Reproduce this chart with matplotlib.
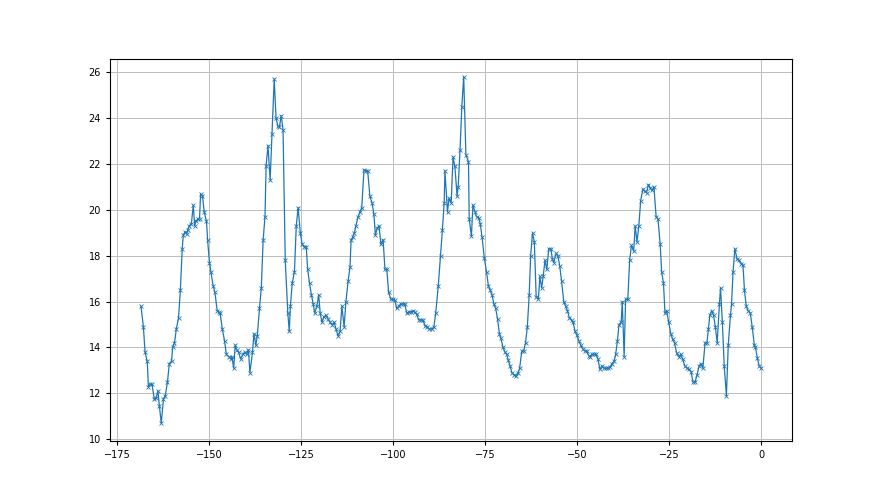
import matplotlib
matplotlib.use('Agg')
import matplotlib.pyplot as plt

x_values = [
    -168.5, -167.85, -167.4, -166.8, -166.5, -166.0, -165.5, -164.9, -164.4, -163.9,
    -163.5, -163.0, -162.4, -161.9, -161.3, -160.8, -160.2, -159.9, -159.4, -158.9,
    -158.3, -157.8, -157.3, -157.0, -156.5, -156.1, -155.8, -155.4, -154.8, -154.3,
    -153.9, -153.6, -153.1, -152.6, -152.3, -151.8, -151.3, -150.7, -150.4, -149.9,
    -149.5, -148.9, -148.4, -147.8, -147.4, -147.0, -146.4, -145.8, -145.3, -144.6,
    -144.1, -143.8, -143.3, -142.9, -142.5, -142.0, -141.4, -140.8, -140.3, -139.8,
    -139.3, -138.9, -138.2, -137.8, -137.3, -136.9, -136.3, -135.8, -135.3, -134.8,
    -134.5, -134.0, -133.4, -132.9, -132.3, -131.8, -131.3, -130.9, -130.4, -129.9,
    -129.3, -128.6, -128.2, -127.9, -127.4, -126.8, -126.3, -125.8, -125.2, -124.7,
    -124.2, -123.6, -123.2, -122.7, -122.2, -121.7, -121.3, -120.7, -120.2, -119.8,
    -119.3, -118.8, -118.2, -117.7, -117.1, -116.6, -116.0, -115.5, -114.9, -114.4,
    -113.9, -113.3, -112.8, -112.2, -111.7, -111.4, -111.0, -110.5, -110.1, -109.5,
    -109.0, -108.5, -107.9, -107.4, -106.9, -106.3, -105.7, -105.2, -104.8, -104.3,
    -103.8, -103.3, -102.7, -102.2, -101.7, -101.2, -100.6, -100.1, -99.5, -99.0,
    -98.5, -97.9, -97.4, -96.8, -96.3, -95.7, -95.2, -94.6, -94.1, -93.6,
    -93.0, -92.5, -91.9, -91.3, -90.7, -90.1, -89.5, -88.9, -88.4, -87.7,
    -87.1, -86.6, -86.1, -85.9, -85.2, -84.8, -84.2, -83.7, -83.2, -82.6,
    -82.3, -81.8, -81.3, -80.8, -80.2, -79.5, -79.3, -78.7, -78.3, -77.7,
    -77.3, -76.7, -76.3, -75.8, -75.2, -74.6, -74.1, -73.6, -73.1, -72.6,
    -72.1, -71.6, -71.1, -70.7, -70.1, -69.6, -69.1, -68.7, -68.2, -67.7,
    -67.1, -66.6, -66.0, -65.6, -65.0, -64.5, -64.0, -63.5, -63.0, -62.6,
    -62.1, -61.6, -61.1, -60.5, -60.1, -59.6, -59.2, -58.7, -58.2, -57.7,
    -57.1, -56.7, -56.3, -55.7, -55.2, -54.7, -54.2, -53.6, -53.1, -52.6,
    -52.1, -51.5, -51.1, -50.5, -50.1, -49.5, -49.0, -48.5, -47.9, -47.4,
    -46.8, -46.5, -45.9, -45.4, -44.8, -44.3, -43.8, -43.2, -42.7, -42.1,
    -41.6, -41.0, -40.5, -39.9, -39.5, -39.0, -38.6, -38.0, -37.7, -37.2,
    -36.8, -36.2, -35.7, -35.2, -34.6, -34.2, -33.7, -33.2, -32.7, -32.1,
    -31.6, -31.1, -30.6, -30.1, -29.6, -29.1, -28.5, -28.0, -27.4, -27.0,
    -26.5, -26.1, -25.6, -25.1, -24.5, -24.0, -23.5, -22.9, -22.4, -21.8,
    -21.3, -20.7, -20.1, -19.6, -19.0, -18.5, -17.9, -17.4, -16.8, -16.3,
    -15.8, -15.2, -14.7, -14.3, -13.9, -13.4, -12.9, -12.4, -11.9, -11.3,
    -11.0, -10.5, -10.0, -9.4, -8.9, -8.3, -8.0, -7.6, -7.1, -6.5,
    -6.0, -5.4, -4.9, -4.5, -4.0, -3.5, -2.9, -2.4, -1.8, -1.5,
    -1.0, -0.5, 0.0,
]

y_values = [
    15.8, 14.9, 13.8, 13.4, 12.3, 12.4, 12.4, 11.75, 11.8, 12.1,
    11.45, 10.7, 11.75, 11.9, 12.5, 13.3, 13.4, 14.0, 14.2, 14.8,
    15.3, 16.5, 18.3, 18.9, 19.05, 18.95, 19.1, 19.3, 19.4, 20.2,
    19.3, 19.5, 19.6, 19.6, 20.7, 20.6, 19.9, 19.5, 18.7, 17.7,
    17.3, 16.7, 16.4, 15.6, 15.55, 15.5, 14.8, 14.3, 13.7, 13.6,
    13.5, 13.6, 13.1, 14.1, 13.9, 13.8, 13.5, 13.7, 13.8, 13.7,
    13.9, 12.9, 13.8, 14.6, 14.1, 14.5, 15.7, 16.6, 18.7, 19.7,
    21.9, 22.8, 21.3, 23.3, 25.7, 24.0, 23.65, 23.6, 24.1, 23.5,
    17.8, 15.5, 14.7, 15.8, 16.8, 17.3, 19.3, 20.1, 19.0, 18.5,
    18.4, 18.4, 17.4, 16.8, 16.3, 15.9, 15.5, 15.8, 16.3, 15.5,
    15.1, 15.35, 15.4, 15.25, 15.1, 15.0, 15.1, 14.8, 14.5, 14.7,
    15.8, 14.9, 16.0, 16.9, 17.5, 18.7, 18.8, 19.0, 19.3, 19.7,
    19.9, 20.1, 21.75, 21.7, 21.7, 20.6, 20.3, 19.8, 18.9, 19.2,
    19.3, 18.5, 18.7, 17.4, 17.4, 16.4, 16.1, 16.1, 16.05, 15.7,
    15.8, 15.9, 15.9, 15.9, 15.5, 15.55, 15.55, 15.6, 15.55, 15.45,
    15.2, 15.2, 15.2, 14.95, 14.9, 14.8, 14.8, 14.9, 15.5, 16.7,
    18.0, 19.1, 20.3, 21.7, 19.9, 20.5, 20.3, 22.3, 21.9, 20.6,
    21.0, 22.6, 24.5, 25.8, 22.4, 22.1, 19.6, 18.85, 20.2, 19.9,
    19.7, 19.65, 19.4, 18.8, 17.9, 17.3, 16.7, 16.5, 16.3, 15.9,
    15.7, 15.25, 14.6, 14.4, 14.0, 13.8, 13.7, 13.45, 13.2, 12.9,
    12.8, 12.75, 12.9, 13.1, 13.85, 13.85, 14.2, 14.9, 16.3, 18.0,
    19.0, 18.6, 16.2, 16.1, 17.1, 16.6, 17.1, 17.8, 17.4, 18.3,
    18.3, 17.85, 17.7, 18.1, 18.0, 17.55, 16.9, 16.0, 15.8, 15.6,
    15.3, 15.2, 15.1, 14.7, 14.55, 14.3, 14.1, 13.95, 13.85, 13.85,
    13.65, 13.6, 13.7, 13.7, 13.7, 13.5, 13.05, 13.2, 13.1, 13.1,
    13.1, 13.15, 13.3, 13.4, 13.7, 14.3, 15.0, 15.1, 16.0, 13.6,
    16.1, 16.1, 17.8, 18.45, 18.2, 19.3, 18.6, 19.3, 20.4, 20.9,
    20.8, 20.75, 21.1, 20.95, 20.85, 21.0, 19.7, 19.6, 18.5, 17.3,
    16.8, 15.5, 15.6, 15.1, 14.6, 14.35, 14.2, 13.75, 13.6, 13.7,
    13.5, 13.2, 13.1, 13.05, 12.95, 12.5, 12.5, 12.8, 13.2, 13.3,
    13.1, 14.2, 14.2, 14.8, 15.4, 15.6, 15.4, 14.9, 14.2, 15.9,
    16.6, 15.1, 13.2, 11.9, 14.1, 15.4, 15.9, 17.3, 18.3, 17.85,
    17.8, 17.65, 17.6, 16.5, 15.8, 15.6, 15.5, 14.9, 14.1, 14.0,
    13.55, 13.2, 13.1,
]

x_ticks = [-175, -150, -125, -100, -75, -50, -25, 0]
y_ticks = [10, 12, 14, 16, 18, 20, 22, 24, 26]


def plot_series(xs, ys):
    """
    Draws the measured series as a thin line with x markers on a grid.

    :param xs: x positions
    :param ys: measured values
    """
    if len(xs) != len(ys):
        raise ValueError('x and y do not have the same length.')

    fig, ax = plt.subplots(figsize=(8.8, 4.95), dpi=100)

    # line with small crosses at every sample
    ax.plot(xs, ys, color='#1f77b4', linewidth=0.9, marker='x', markersize=3.5,
            markeredgewidth=0.6)

    # ticks and grid
    ax.set_xticks(x_ticks)
    ax.set_yticks(y_ticks)
    ax.tick_params(labelsize=7, length=3, width=0.8)
    ax.grid(True, color='#bdbdbd', linewidth=0.7)

    fig.savefig('out.png', dpi=100)


plot_series(x_values, y_values)
